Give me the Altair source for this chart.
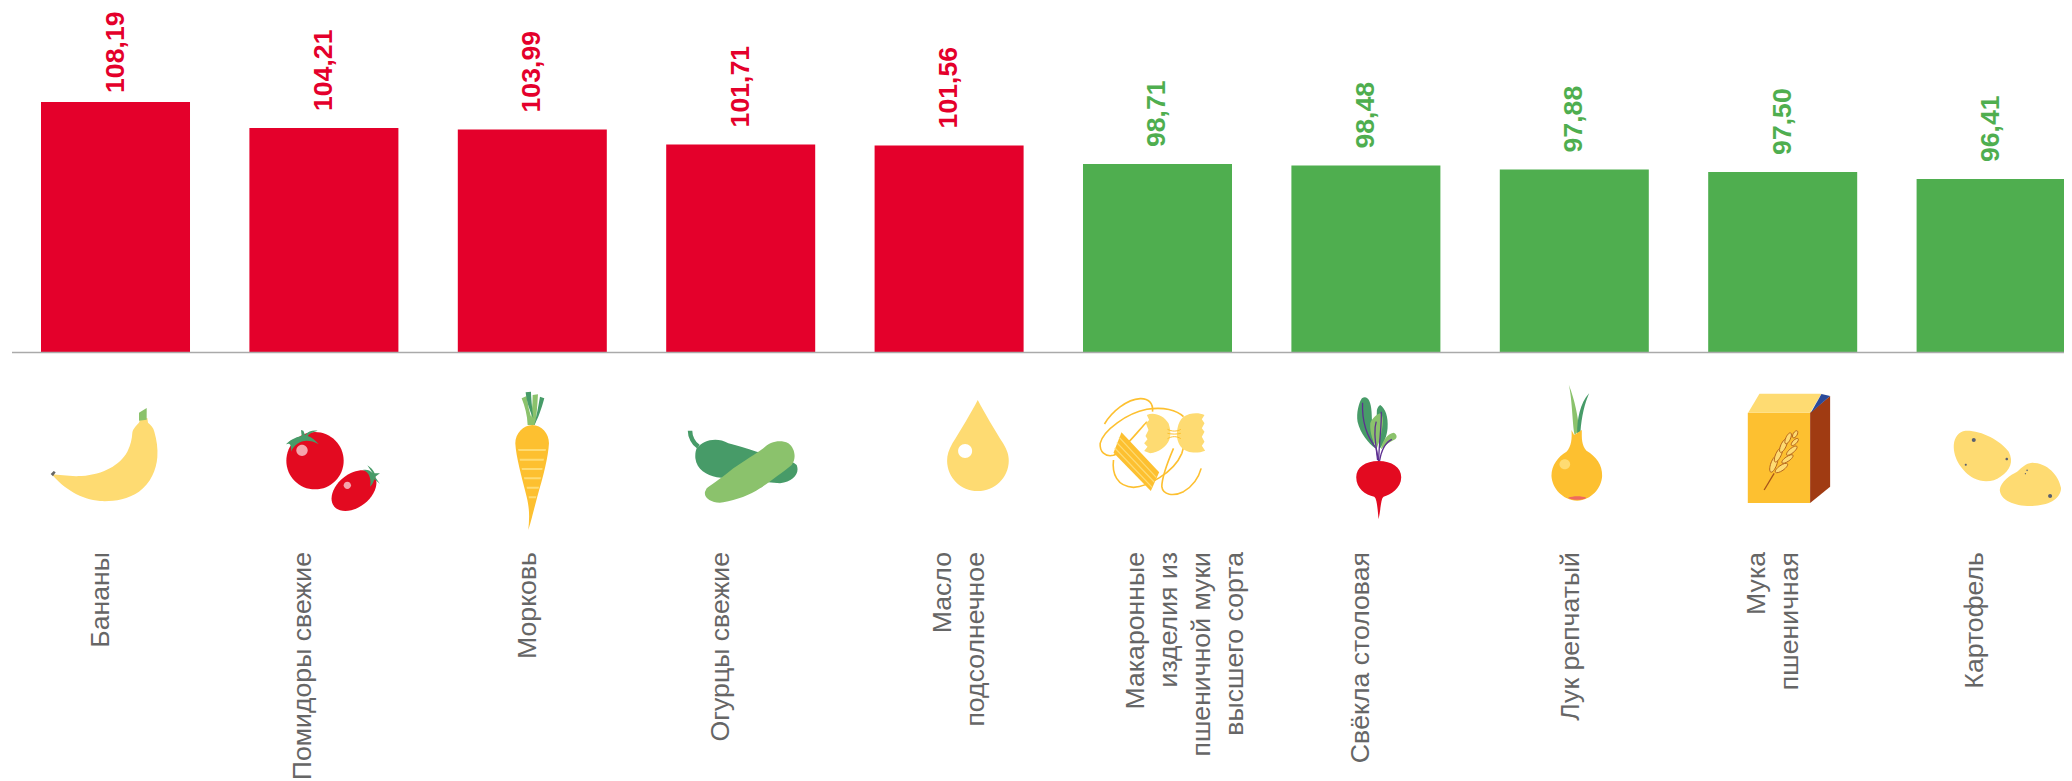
import math
import re
import altair as alt
import pandas as pd

categories = ["Бананы", "Помидоры свежие", "Морковь", "Огурцы свежие", "Масло подсолнечное",
              "Макаронные изделия из пшеничной муки высшего сорта", "Свёкла столовая",
              "Лук репчатый", "Мука пшеничная", "Картофель"]
values = [108.19, 104.21, 103.99, 101.71, 101.56, 98.71, 98.48, 97.88, 97.50, 96.41]
value_labels = ["108,19", "104,21", "103,99", "101,71", "101,56", "98,71", "98,48", "97,88", "97,50", "96,41"]
label_lines = [["Бананы"], ["Помидоры свежие"], ["Морковь"], ["Огурцы свежие"],
               ["Масло", "подсолнечное"],
               ["Макаронные", "изделия из", "пшеничной муки", "высшего сорта"],
               ["Свёкла столовая"], ["Лук репчатый"], ["Мука", "пшеничная"], ["Картофель"]]

RED, GREEN = "#e4002b", "#4fae4f"
YEL, ORG = "#fedb72", "#fdc030"
GD, GL = "#479b68", "#8bc26c"
TOM = "#e30a20"
PUR = "#5d2f91"
BRN = "#a03b12"
FONT = "Liberation Sans"

# layout of text, not data
label_shift = [-15, -21, -4, -20, -6, -21, -5, -3, -26, -16]
value_lift = [9, 17, 17, 17, 17, 17, 17, 17, 17, 17]


def ell(cx, cy, rx, ry, rot=0):
    k = 0.5523
    a = math.radians(rot)
    c, s = math.cos(a), math.sin(a)

    def p(x, y):
        return f"{cx + x * c - y * s:.1f},{cy + x * s + y * c:.1f}"
    return (f"M{p(rx, 0)} C{p(rx, k * ry)} {p(k * rx, ry)} {p(0, ry)} "
            f"C{p(-k * rx, ry)} {p(-rx, k * ry)} {p(-rx, 0)} "
            f"C{p(-rx, -k * ry)} {p(-k * rx, -ry)} {p(0, -ry)} "
            f"C{p(k * rx, -ry)} {p(rx, -k * ry)} {p(rx, 0)} Z")


# icon outlines: x is measured so that icon_anchor[i] sits at the middle of the band, y from the icon row
icon_anchor = [226.5, 851.7, 157, 782, 88, 712, 107, 733.5, 155.7, 782]
icons = {
    0: [
        ("M35,283 C60,285 90,290 125,288 C190,283 240,255 262,215 C272,195 276,175 277,158 C279,145 292,135 298,126 L300,118 L322,114 L324,128 C332,135 340,142 343,155 C350,180 354,205 352,232 C349,270 332,310 297,335 C260,360 215,365 180,363 C125,360 70,325 35,283 Z", YEL),
        ("M297,98 L320,84 L320,119 L297,122 Z", GL),
        ("M32,282 L41,273 L47,277 L39,289 Z", "#666666"),
    ],
    1: [
        (ell(825, 242, 86, 86), TOM),
        (ell(786, 211, 17, 17), "#f5a5ad"),
        ("M738,193 C755,175 775,170 785,168 L783,150 L790,152 L795,165 C805,152 820,150 833,152 C820,155 808,160 803,168 C815,172 828,182 836,193 C825,185 810,182 800,182 C780,182 762,195 753,215 C755,195 750,188 738,193 Z", GD),
        (ell(942, 332, 76, 50, -38), TOM),
        (ell(922, 316, 11, 11), "#f5a5ad"),
        ("M968,270 C980,268 990,270 998,280 L982,256 C992,262 1000,270 1004,280 L1020,280 C1012,286 1008,288 1006,292 L1020,312 C1012,305 1007,300 1003,298 C1000,305 998,315 990,320 C994,305 990,290 985,282 C980,276 975,272 968,270 Z", GD),
    ],
    2: [
        ("M125,55 L140,48 C145,80 150,110 165,135 L143,135 C142,105 135,80 125,55 Z", GL),
        ("M158,45 L174,43 C172,80 170,110 165,135 L150,135 C155,105 158,75 158,45 Z", GL),
        ("M137,37 L153,35 C154,65 158,95 160,115 C150,95 140,65 137,37 Z", GD),
        ("M180,50 L193,55 C185,85 175,115 163,135 C170,105 175,80 180,50 Z", GD),
        ("M157,135 C185,135 207,160 207,190 C205,230 190,290 172,350 C160,395 152,430 145,450 C148,420 150,390 140,350 C125,290 108,230 106,190 C106,160 130,135 157,135 Z", ORG),
        ("M114,207 L198,207 L197,213 L116,213 Z", YEL),
        ("M119,236 L192,236 L191,242 L120,242 Z", YEL),
        ("M125,264 L188,264 L187,270 L126,270 Z", YEL),
        ("M132,292 L183,292 L182,298 L133,298 Z", YEL),
        ("M140,320 L177,320 L176,326 L141,326 Z", YEL),
        ("M146,349 L169,349 L168,355 L147,355 Z", YEL),
    ],
    3: [
        ("M630,152 C630,170 640,190 655,200", GD, 4.5),
        ("M650,205 C670,180 710,170 745,190 C770,197 800,205 830,215 C870,225 930,235 950,255 C960,280 940,305 900,310 L780,300 L710,292 C680,285 650,270 646,235 C645,220 647,212 650,205 Z", GD),
        ("M680,325 C700,310 730,290 760,265 C790,245 830,220 850,205 C870,185 900,178 925,190 C945,205 950,235 935,255 C910,275 870,305 840,325 C810,345 770,360 730,367 C700,372 670,355 675,335 Z", GL),
    ],
    4: [
        ("M174,60 C195,100 225,150 250,190 C262,210 267,225 267,242 C267,292 225,333 174,333 C123,333 82,292 82,242 C82,225 87,210 98,190 C123,150 153,100 174,60 Z", YEL),
        (ell(136, 213, 21, 21), "#ffffff"),
    ],
    5: [
        ("M553,132 C575,95 620,58 660,56 C685,55 700,70 697,95", ORG, 1.6),
        ("M790,110 C770,90 730,80 680,88 C620,100 550,150 540,190 C538,215 555,232 580,226 C600,220 640,170 680,125", ORG, 1.6),
        ("M580,240 C575,280 590,320 640,322 C680,320 760,280 785,220 C790,205 793,190 790,175", ORG, 1.6),
        ("M760,205 C745,240 725,290 725,320 C728,345 760,350 790,335 C815,320 835,295 843,265", ORG, 1.6),
        ("M680,105 C700,95 730,105 745,130 C752,150 752,165 748,178 C740,200 715,218 690,220 L672,213 L682,200 L672,190 L682,178 L676,168 L685,150 L677,130 L687,120 Z", YEL),
        ("M790,110 C810,98 835,97 853,105 L845,118 L853,130 L845,145 L853,155 L845,170 L853,185 L845,197 L855,212 C830,222 800,220 782,200 C770,185 768,165 772,145 C775,130 780,118 790,110 Z", YEL),
        ("M742,148 C755,155 770,155 782,148 M742,160 C755,163 770,163 782,160 M742,176 C755,168 770,168 782,176", ORG, 1.0),
        ("M604,157 L717,277 L692,333 L580,218 Z", ORG),
        ("M597,172 L708,292 M590,188 L702,306 M584,204 L696,322", YEL, 1.3),
    ],
    6: [
        ("M95,55 C110,45 122,60 124,95 C126,130 125,165 135,205 C115,190 90,160 82,125 C78,100 85,70 95,55 Z", GD),
        ("M150,75 C165,85 175,110 172,145 C170,170 160,190 150,205 C140,180 138,130 140,90 C142,82 146,77 150,75 Z", GD),
        ("M150,100 C160,105 160,130 155,150 C150,175 145,190 140,205 C130,190 118,160 120,130 C125,115 140,103 150,100 Z", GL),
        ("M190,158 C200,162 202,172 195,178 C180,185 165,195 152,208 C155,185 170,162 190,158 Z", GL),
        ("M97,68 C95,120 110,170 138,205 L145,243", PUR, 1.3),
        ("M153,95 C155,130 148,170 145,243", PUR, 1.3),
        ("M138,125 C130,150 135,180 142,240", PUR, 1.3),
        ("M185,178 C170,185 155,200 148,243", PUR, 1.3),
        ("M145,243 C185,243 213,262 213,292 C213,325 180,345 160,350 C152,355 152,385 145,418 C142,385 140,355 132,350 C105,345 78,325 78,292 C78,262 105,243 145,243 Z", TOM),
    ],
    7: [
        ("M717,14 C735,60 745,110 748,150 L735,165 C728,145 728,60 717,14 Z", GL),
        ("M778,40 C765,70 755,110 752,155 L742,160 C742,120 750,70 778,40 Z", GD),
        ("M725,150 L733,165 L756,150 C756,175 755,195 770,212 C800,230 818,255 817,288 C815,325 785,360 742,362 C698,360 667,325 665,288 C665,255 685,230 710,215 C725,200 727,175 725,150 Z", ORG),
        (ell(705, 253, 16, 15), YEL),
        ("M715,353 C730,347 755,347 770,353 C760,361 725,361 715,353 Z", "#ef6a5e"),
    ],
    8: [
        ("M51,98 L238,98 L238,369 L51,369 Z", ORG),
        ("M52,98 L86,41 L272,41 L238,98 Z", YEL),
        ("M238,98 L298,48 L298,320 L238,369 Z", BRN),
        ("M240,98 L272,42 L298,48 Z", "#2a4a9a"),
        ("M100,330 L130,280", "#a8531a", 1.3),
        (ell(129, 252, 26, 9, -70), YEL, "#b5651d"),
        (ell(143, 224, 24, 8, -65), YEL, "#b5651d"),
        (ell(158, 197, 22, 8, -65), YEL, "#b5651d"),
        (ell(172, 175, 18, 7, -65), YEL, "#b5651d"),
        (ell(152, 264, 22, 8, -35), YEL, "#b5651d"),
        (ell(170, 237, 20, 7, -35), YEL, "#b5651d"),
        (ell(183, 212, 20, 7, -40), YEL, "#b5651d"),
        (ell(192, 186, 14, 6, -45), YEL, "#b5651d"),
        (ell(193, 163, 12, 6, -60), YEL, "#b5651d"),
    ],
    9: [
        ("M705,152 C750,150 810,180 835,215 C850,245 840,270 810,290 C790,305 760,310 730,295 C695,275 668,235 670,195 C672,170 685,155 705,152 Z", YEL),
        ("M905,248 C950,248 985,285 992,325 C990,360 950,378 900,378 C850,378 810,360 808,330 C810,305 840,285 860,275 C875,262 885,250 905,248 Z", YEL),
        (ell(730, 180, 6, 6), "#5a6070"),
        (ell(829, 237, 4, 4), "#5a6070"),
        (ell(706, 254, 3, 3), "#5a6070"),
        (ell(959, 348, 6, 6), "#5a6070"),
        (ell(890, 271, 2.5, 2.5), "#5a6070"),
        (ell(885, 281, 2, 2), "#5a6070"),
    ],
}


def recentre(path, ox):
    return re.sub(r"(-?[\d.]+),(-?[\d.]+)", lambda m: f"{float(m[1]) - ox:.1f},{m[2]}", path)


df = pd.DataFrame({"cat": categories, "value": values, "label": value_labels,
                   "kind": ["up" if v > 100 else "down" for v in values]})

x_enc = alt.X("cat:N", sort=categories, axis=None,
              scale=alt.Scale(range=[33, 2057.6], paddingInner=0.285, paddingOuter=0, round=False))
y_enc = alt.Y("value:Q", axis=None,
              scale=alt.Scale(domain=[70, 122.55], range=[344, 0], nice=False, zero=False))

bars = alt.Chart(df).mark_bar().encode(
    x=x_enc, y=y_enc, y2=alt.Y2(datum=70),
    color=alt.Color("kind:N", legend=None, scale=alt.Scale(domain=["up", "down"], range=[RED, GREEN])),
)
baseline = alt.Chart(df.head(1)).mark_rule(color="#aaaaaa", strokeWidth=1.6).encode(
    x=alt.value(4), x2=alt.value(2056), y=alt.value(344.5))

layers = [bars, baseline]

for i, cat in enumerate(categories):
    one = df[df["cat"] == cat]
    layers.append(alt.Chart(one).mark_text(
        angle=270, align="left", baseline="middle", font=FONT, fontWeight="bold", fontSize=26.67,
        dx=value_lift[i], color=RED if values[i] > 100 else GREEN,
    ).encode(x=x_enc, y=y_enc, text="label:N"))
    layers.append(alt.Chart(one).mark_text(
        angle=270, align="right", baseline="middle", font=FONT, fontSize=26.67, lineHeight=33,
        dy=label_shift[i], color="#666666", text=label_lines[i],
    ).encode(x=x_enc, y=alt.value(544)))
    for item in icons[i]:
        path = recentre(item[0], icon_anchor[i])
        if len(item) == 3 and not isinstance(item[2], str):
            mark = alt.Chart(one).mark_point(shape=path, size=4 / 9, filled=False, opacity=1,
                                             stroke=item[1], strokeWidth=item[2])
        elif len(item) == 3:
            mark = alt.Chart(one).mark_point(shape=path, size=4 / 9, filled=True, opacity=1,
                                             fill=item[1], stroke=item[2], strokeWidth=1)
        else:
            mark = alt.Chart(one).mark_point(shape=path, size=4 / 9, filled=True, opacity=1,
                                             fill=item[1], strokeWidth=0)
        layers.append(mark.encode(x=x_enc, y=alt.value(372)))

chart = alt.layer(*layers).properties(
    width=2056, height=773, padding=0, autosize=alt.AutoSizeParams(type="none"),
    background="#ffffff",
).configure_view(stroke=None)

chart.save("out.html", embed_options={"renderer": "svg", "actions": False})
